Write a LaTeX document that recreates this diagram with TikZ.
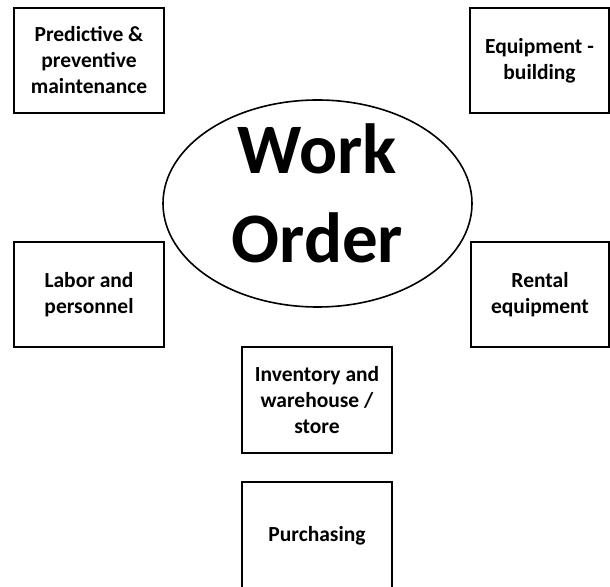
\documentclass[tikz,border=0pt]{standalone}
\usepackage{fontspec}
\setmainfont{Carlito}
\usetikzlibrary{shapes.geometric}
\begin{document}
\begin{tikzpicture}[x=1pt,y=1pt,
  box/.style={draw=black, line width=2pt, rectangle, inner sep=0pt, align=center,
    font=\fontsize{21.5}{26}\selectfont\bfseries},
  hub/.style={draw=black, line width=1.6pt, ellipse, inner sep=0pt,
    minimum width=309pt, minimum height=207pt},
  hubtext/.style={inner sep=0pt, align=center,
    font=\fontsize{71}{89}\selectfont\bfseries}]
\useasboundingbox (0,0) rectangle (610,586);
\node[hub] (wo) at (317.5,382.5) {};
\node[hubtext] (wotext) at (317.5,393) {Work\\Order};
\node[box, minimum width=150pt, minimum height=105pt] (pm) at (89,525.5) {Predictive \&\\preventive\\maintenance};
\node[box, minimum width=139pt, minimum height=105pt] (eq) at (539.5,525.5) {Equipment -\\building};
\node[box, minimum width=150pt, minimum height=105pt] (lab) at (89,291.5) {Labor and\\personnel};
\node[box, minimum width=138pt, minimum height=105pt] (ren) at (540,291.5) {Rental\\equipment};
\node[box, minimum width=150pt, minimum height=106pt] (inv) at (317,186) {Inventory and\\warehouse /\\store};
\node[box, minimum width=150pt, minimum height=108pt] (pur) at (317,50) {Purchasing};
\end{tikzpicture}
\end{document}
